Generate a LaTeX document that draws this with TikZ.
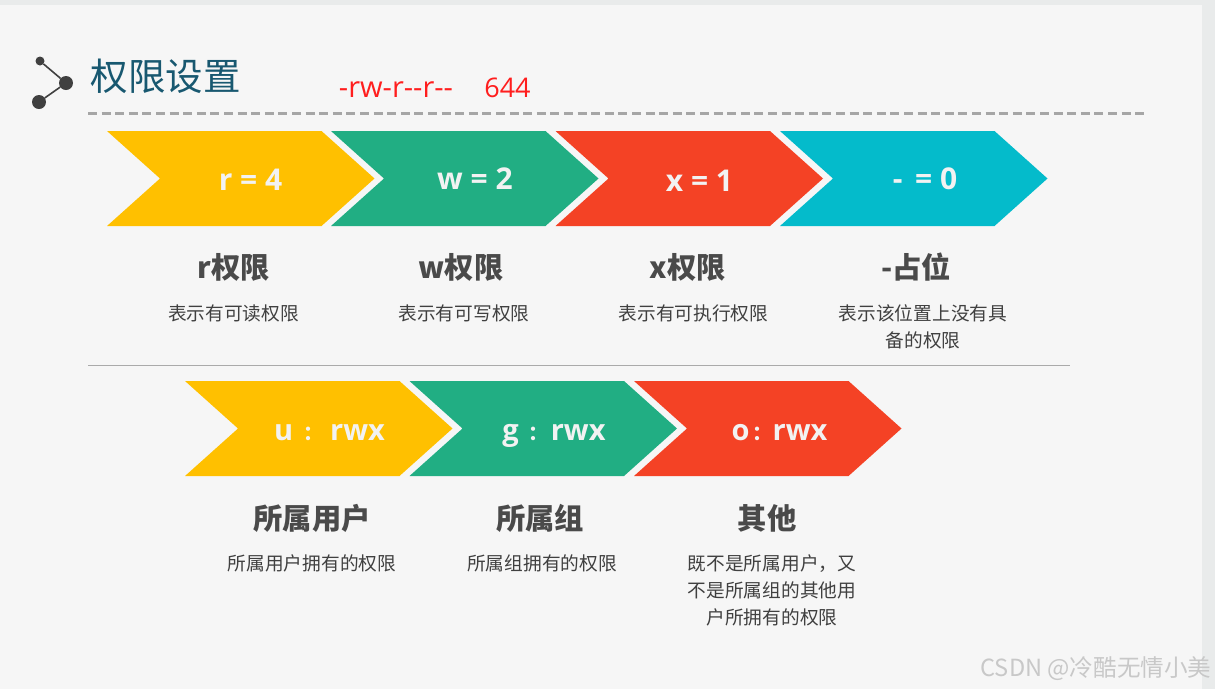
\documentclass[tikz,border=0pt]{standalone}
\usepackage{fontspec}
\setmainfont{Noto Sans CJK SC}
\newfontfamily\latinfont{Open Sans}
\usetikzlibrary{positioning, calc}
\definecolor{pagebg}{RGB}{246, 246, 246}
\definecolor{pageedge}{RGB}{233, 235, 235}
\definecolor{inkdark}{RGB}{64, 64, 64}
\definecolor{inkhead}{RGB}{74, 74, 74}
\definecolor{titleblue}{RGB}{24, 88, 112}
\definecolor{ruledash}{RGB}{166, 166, 166}
\definecolor{rulethin}{RGB}{170, 170, 170}
\definecolor{blockyellow}{RGB}{255, 192, 0}
\definecolor{blockgreen}{RGB}{33, 174, 131}
\definecolor{blockred}{RGB}{244, 66, 37}
\definecolor{blockcyan}{RGB}{4, 187, 203}
\definecolor{blocktext}{RGB}{242, 242, 242}
\definecolor{markgray}{RGB}{200, 200, 200}
\definecolor{modered}{RGB}{255, 30, 30}
% one chevron: left x, top y, fill colour
\newcommand{\chevronblock}[3]{%
  \fill[#3] (#1,#2) -- ++(214.5,0) -- ++(53,47.5) -- ++(-53,47.5) -- ++(-214.5,0) -- ++(53,-47.5) -- cycle;
}
\newcommand{\colonmark}[2]{\hspace*{#1}\makebox[#2][l]{\rmfamily\bfseries\fontsize{20}{20}\selectfont ：}}
\begin{document}
\begin{tikzpicture}[
    x=1pt, y=-1pt,
    every node/.style={inner sep=0pt, outer sep=0pt, text=inkdark},
    blocklabel/.style={anchor=base, font=\latinfont\bfseries\fontsize{30}{32}\selectfont, text=blocktext},
    roleblock/.style={anchor=base, font=\latinfont\bfseries\fontsize{29}{32}\selectfont, text=blocktext},
    headlabel/.style={font=\bfseries\fontsize{29.3}{32}\selectfont, text=inkhead},
    desclabel/.style={font=\fontsize{18.7}{27}\selectfont, align=center, anchor=north},
    redlabel/.style={anchor=base, font=\latinfont\fontsize{27}{30}\selectfont, text=modered},
    dot/.style={circle, fill=inkdark, draw=none},
  ]
  \useasboundingbox (0,0) rectangle (1215,689);
  % page
  \fill[pageedge] (0,0) rectangle (1215,689);
  \fill[pagebg] (0,5) rectangle (1202,689);

  % title
  \node[dot, minimum size=9pt] (dota) at (40,61) {};
  \node[dot, minimum size=14pt] (dotb) at (66,83) {};
  \node[dot, minimum size=14pt] (dotc) at (39,102) {};
  \draw[inkdark, line width=1.6pt] (dota) -- (dotb) -- (dotc);
  \node[font=\fontsize{37.5}{40}\selectfont, text=titleblue] (title) at (165.5,76) {权限设置};
  \node[redlabel, font=\latinfont\fontsize{29}{30}\selectfont] (modestr) at (396,97) {-rw-r--r--};
  \node[redlabel] (modenum) at (507.5,97) {644};
  \draw[ruledash, line width=2.6pt, dash pattern=on 9pt off 4.6pt] (88,113.5) -- (1147,113.5);

  % first row
  \chevronblock{107}{131}{blockyellow}
  \chevronblock{331}{131}{blockgreen}
  \chevronblock{555.5}{131}{blockred}
  \chevronblock{780}{131}{blockcyan}
  \node[blocklabel] (r) at (250.5,190) {r = 4};
  \node[blocklabel] (w) at (475,189) {w = 2};
  \node[blocklabel] (x) at (699.5,191) {x = 1};
  \node[blocklabel] (none) at (925,189) {-\, = 0};

  \node[headlabel] (rhead) at (234,267) {r权限};
  \node[headlabel] (whead) at (461,267) {w权限};
  \node[headlabel] (xhead) at (688,267) {x权限};
  \node[headlabel] (nonehead) at (916,267) {-占位};

  \node[desclabel] (rdesc) at (233.5,305) {表示有可读权限};
  \node[desclabel] (wdesc) at (464,305) {表示有可写权限};
  \node[desclabel] (xdesc) at (693.5,305) {表示有可执行权限};
  \node[desclabel] (nonedesc) at (923,305) {表示该位置上没有具\\备的权限};

  \draw[rulethin, line width=0.9pt] (88,365.5) -- (1070,365.5);

  % second row
  \chevronblock{185}{381}{blockyellow}
  \chevronblock{409.5}{381}{blockgreen}
  \chevronblock{634}{381}{blockred}
  \node[roleblock] (u) at (329.5,440) {u\colonmark{10pt}{27pt}rwx};
  \node[roleblock] (g) at (554,440) {g\colonmark{10pt}{22pt}rwx};
  \node[roleblock] (o) at (779.5,440) {o\colonmark{3pt}{20pt}rwx};

  \node[headlabel] (uhead) at (312,518) {所属用户};
  \node[headlabel] (ghead) at (540,518) {所属组};
  \node[headlabel] (ohead) at (767,518) {其他};

  \node[desclabel] (udesc) at (312,555) {所属用户拥有的权限};
  \node[desclabel] (gdesc) at (542,555) {所属组拥有的权限};
  \node[desclabel] (odesc) at (772,555) {既不是所属用户，又\\不是所属组的其他用\\户所拥有的权限};

  \node[font=\fontsize{23.6}{26}\selectfont, text=markgray] (mark) at (1096,669) {CSDN @冷酷无情小美};
\end{tikzpicture}
\end{document}
